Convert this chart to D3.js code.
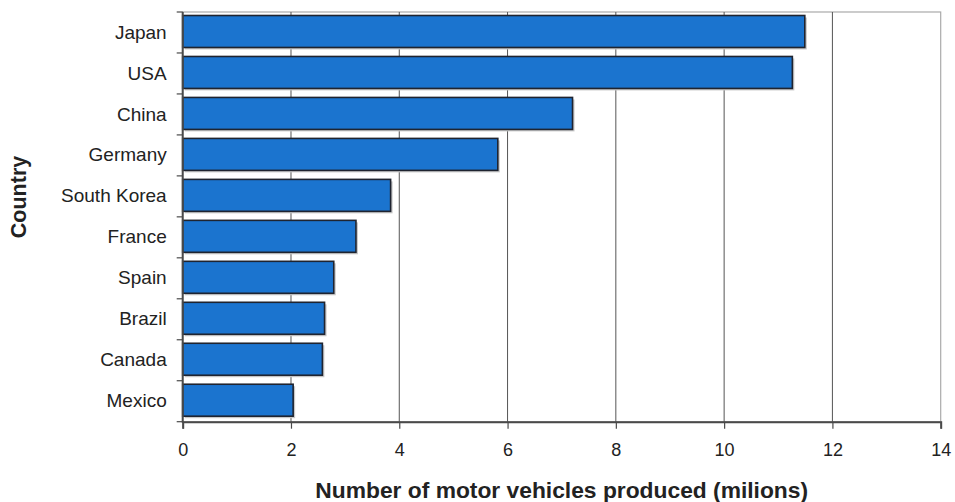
<!DOCTYPE html>
<html>
<head>
<meta charset="utf-8">
<script src="https://cdn.jsdelivr.net/npm/d3@7"></script>
<style>
  html, body { margin: 0; padding: 0; background: #fff; }
  svg { display: block; }
  text { font-family: "Liberation Sans", Arial, sans-serif; fill: #222; }
</style>
</head>
<body>
<svg id="chart" width="955" height="502"></svg>
<script>
const countries = ["Japan", "USA", "China", "Germany", "South Korea", "France", "Spain", "Brazil", "Canada", "Mexico"];
const vehicles = [11.49, 11.26, 7.20, 5.82, 3.84, 3.20, 2.79, 2.62, 2.58, 2.04];
const xTicks = [0, 2, 4, 6, 8, 10, 12, 14];
const xTitle = "Number of motor vehicles produced (milions)";
const yTitle = "Country";

const W = 955, H = 502;
const m = { left: 182.7, right: 940.7, top: 12, bottom: 421.7 };
const svg = d3.select("#chart");

const x = d3.scaleLinear().domain([0, 14]).range([m.left, m.right]);
const y = d3.scaleBand().domain(countries).range([m.top, m.bottom]).paddingInner(0.22).paddingOuter(0.11);

// frame (top/right light gray)
svg.append("rect")
  .attr("x", m.left).attr("y", m.top)
  .attr("width", m.right - m.left).attr("height", m.bottom - m.top)
  .attr("fill", "#fff").attr("stroke", "#aaa").attr("stroke-width", 1.2);

// vertical grid lines
svg.append("g")
  .selectAll("line")
  .data(xTicks.filter(d => d > 0 && d < 14))
  .join("line")
  .attr("x1", d => x(d)).attr("x2", d => x(d))
  .attr("y1", m.top).attr("y2", m.bottom)
  .attr("stroke", "#555").attr("stroke-width", 1);

const data = countries.map((c, i) => ({ c, v: vehicles[i] }));

// bar shadows
svg.append("g")
  .selectAll("rect")
  .data(data)
  .join("rect")
  .attr("x", x(0) + 2)
  .attr("y", d => y(d.c) - 1 + 2)
  .attr("width", d => x(d.v) - x(0))
  .attr("height", y.bandwidth())
  .attr("fill", "#c8c8c8");

// bars
svg.append("g")
  .selectAll("rect")
  .data(data)
  .join("rect")
  .attr("x", x(0))
  .attr("y", d => y(d.c) - 1)
  .attr("width", d => x(d.v) - x(0))
  .attr("height", y.bandwidth())
  .attr("fill", "#1b74cf")
  .attr("stroke", "#1f2430")
  .attr("stroke-width", 1.6);

// x axis
const xAxis = d3.axisBottom(x).tickValues(xTicks).tickSize(7).tickPadding(15).tickFormat(d3.format("d"));
const gx = svg.append("g").attr("transform", `translate(0,${m.bottom})`).call(xAxis);
gx.select(".domain").attr("stroke", "#4a4a4a").attr("stroke-width", 2);
gx.selectAll(".tick line").attr("stroke", "#4a4a4a").attr("stroke-width", 1.2);
gx.selectAll(".tick text").attr("font-size", 18).attr("font-family", "Liberation Sans, Arial, sans-serif").attr("fill", "#222");

// y axis: ticks at band boundaries
const yAxis = d3.axisLeft(y).tickSize(0).tickPadding(16);
const gy = svg.append("g").attr("transform", `translate(${m.left},0)`).call(yAxis);
gy.select(".domain").remove();
gy.selectAll(".tick text").attr("font-size", 19).attr("font-family", "Liberation Sans, Arial, sans-serif").attr("fill", "#222");

const boundaries = d3.range(countries.length + 1).map(i => m.top + i * y.step());
svg.append("g").selectAll("line").data(boundaries).join("line")
  .attr("x1", m.left - 6).attr("x2", m.left)
  .attr("y1", d => d).attr("y2", d => d)
  .attr("stroke", "#4a4a4a").attr("stroke-width", 1.2);

svg.append("line")
  .attr("x1", m.left).attr("x2", m.left)
  .attr("y1", m.top).attr("y2", m.bottom + 1)
  .attr("stroke", "#4a4a4a").attr("stroke-width", 2);

// axis titles
svg.append("text")
  .attr("x", (m.left + m.right) / 2).attr("y", 498)
  .attr("text-anchor", "middle")
  .attr("font-size", 22.8).attr("font-weight", "bold")
  .text(xTitle);

svg.append("text")
  .attr("transform", `translate(26,197) rotate(-90)`)
  .attr("text-anchor", "middle")
  .attr("font-size", 21.5).attr("font-weight", "bold")
  .text(yTitle);
</script>
</body>
</html>
